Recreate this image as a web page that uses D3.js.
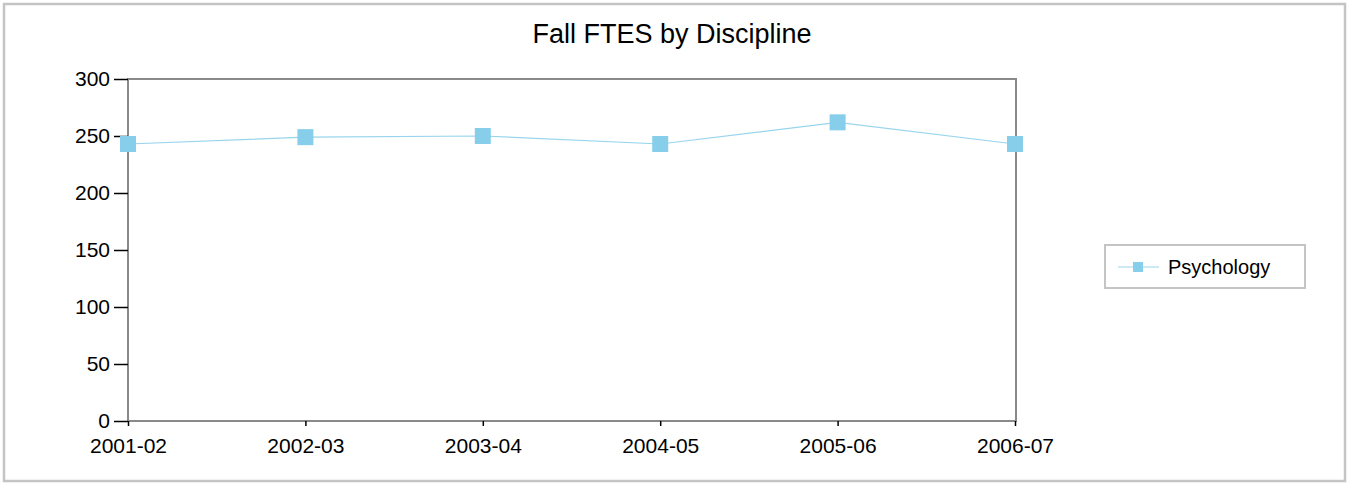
<!DOCTYPE html>
<html>
<head>
<meta charset="utf-8">
<script src="https://cdn.jsdelivr.net/npm/d3@7"></script>
<style>
  body { margin: 0; background: #fff; }
  text { font-family: "Liberation Sans", Arial, sans-serif; fill: #000; }
</style>
</head>
<body>
<div id="chart"></div>
<script>
const years = ['2001-02', '2002-03', '2003-04', '2004-05', '2005-06', '2006-07']
const psychology = [243, 249, 250, 243, 262, 243]
const yTicks = [0, 50, 100, 150, 200, 250, 300]
const seriesName = 'Psychology'
const title = 'Fall FTES by Discipline'

const W = 1348, H = 484
const plot = { left: 128, right: 1016, top: 79, bottom: 421 }
const lineColor = '#98d5ec'
const markColor = '#87ceeb'

const svg = d3.select('#chart').append('svg')
    .attr('width', W)
    .attr('height', H)

// outer frame
svg.append('rect')
    .attr('x', 4).attr('y', 4)
    .attr('width', W - 7).attr('height', H - 7)
    .attr('fill', '#fff')
    .attr('stroke', '#c4c4c4')
    .attr('stroke-width', 2.5)

svg.append('text')
    .attr('x', 672).attr('y', 43)
    .attr('text-anchor', 'middle')
    .style('font-size', '27px')
    .text(title)

const x = d3.scalePoint().domain(years).range([plot.left, plot.right - 1])
const y = d3.scaleLinear().domain([0, 300]).range([plot.bottom, plot.top])

// plot frame
svg.append('rect')
    .attr('x', plot.left).attr('y', plot.top)
    .attr('width', plot.right - plot.left).attr('height', plot.bottom - plot.top)
    .attr('fill', 'none')
    .attr('stroke', '#8a8a8a')
    .attr('stroke-width', 2)

const yAxis = svg.append('g')
    .attr('transform', `translate(${plot.left},0)`)
    .call(d3.axisLeft(y).tickValues(yTicks).tickSize(14).tickPadding(4))
yAxis.select('.domain').remove()
yAxis.selectAll('line').attr('stroke', '#000').attr('stroke-width', 1.5)
yAxis.selectAll('text').style('font-size', '21px')

const xAxis = svg.append('g')
    .attr('transform', `translate(0,${plot.bottom})`)
    .call(d3.axisBottom(x).tickSize(5).tickPadding(12))
xAxis.select('.domain').remove()
xAxis.selectAll('line').attr('stroke', '#000').attr('stroke-width', 1.5)
xAxis.selectAll('text').style('font-size', '21px')

const line = d3.line()
    .x((d, i) => x(years[i]))
    .y(d => y(d))

svg.append('path')
    .datum(psychology)
    .attr('d', line)
    .attr('fill', 'none')
    .attr('stroke', lineColor)
    .attr('stroke-width', 1.2)

svg.selectAll('.dot')
    .data(psychology)
    .enter().append('rect')
    .attr('class', 'dot')
    .attr('x', (d, i) => x(years[i]) - 8)
    .attr('y', d => y(d) - 8)
    .attr('width', 16)
    .attr('height', 16)
    .attr('fill', markColor)

// legend
const legend = svg.append('g').attr('transform', 'translate(1105,245)')
legend.append('rect')
    .attr('width', 200).attr('height', 43)
    .attr('fill', '#fff')
    .attr('stroke', '#c4c4c4')
    .attr('stroke-width', 2)
legend.append('line')
    .attr('x1', 13).attr('x2', 54)
    .attr('y1', 22).attr('y2', 22)
    .attr('stroke', lineColor)
    .attr('stroke-width', 1.2)
legend.append('rect')
    .attr('x', 28).attr('y', 17)
    .attr('width', 10).attr('height', 10)
    .attr('fill', markColor)
legend.append('text')
    .attr('x', 63).attr('y', 22)
    .attr('dy', '0.35em')
    .style('font-size', '20px')
    .text(seriesName)
</script>
</body>
</html>
